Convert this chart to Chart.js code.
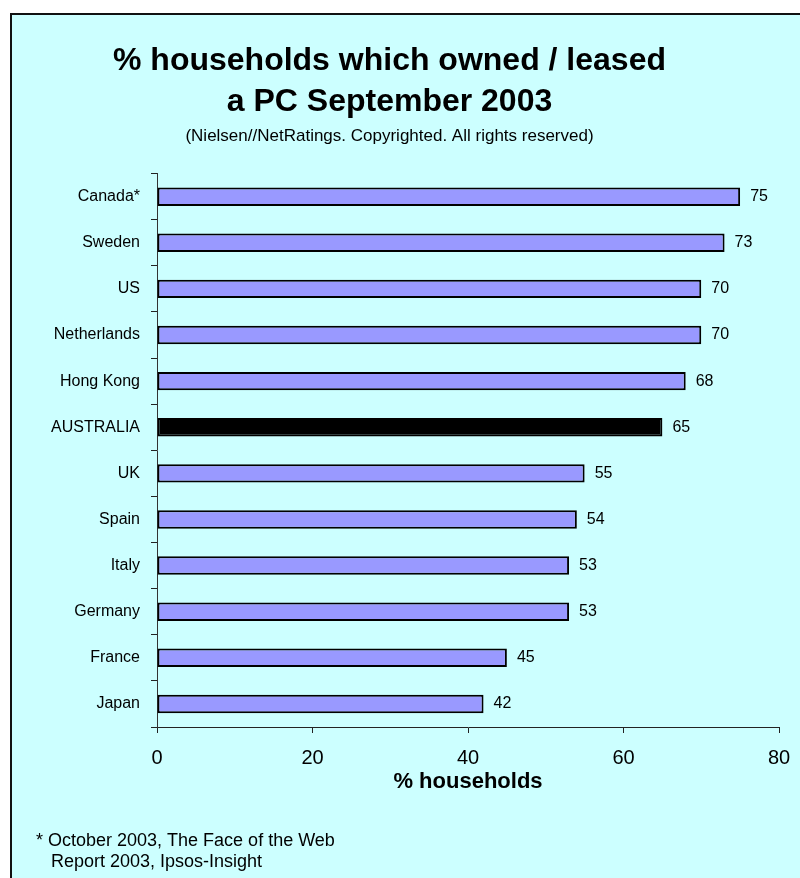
<!DOCTYPE html>
<html lang="en">
<head>
    <meta charset="UTF-8">
    <title>PC ownership by country</title>
    <script src="https://cdn.jsdelivr.net/npm/chart.js"></script>
    <style>
        body { margin: 0; background: #fff; }
    </style>
</head>
<body>
    <canvas id="pcChart" width="800" height="878"></canvas>
    <script>
        // Households owning / leasing a PC, Sept 2003
        var countries = ['Canada*', 'Sweden', 'US', 'Netherlands', 'Hong Kong', 'AUSTRALIA',
                         'UK', 'Spain', 'Italy', 'Germany', 'France', 'Japan'];
        var percentOwned = [75, 73, 70, 70, 68, 65, 55, 54, 53, 53, 45, 42];
        var xTicks = [0, 20, 40, 60, 80];
        var highlight = 'AUSTRALIA';

        var FONT = "'Liberation Sans', Arial, sans-serif";

        // cyan panel with the dark frame on top / left
        var panelPlugin = {
            id: 'panel',
            beforeDraw: function (chart) {
                var ctx = chart.ctx;
                ctx.save();
                ctx.fillStyle = '#ffffff';
                ctx.fillRect(0, 0, chart.width, chart.height);
                ctx.fillStyle = '#ccffff';
                ctx.fillRect(10, 13, chart.width, chart.height);
                ctx.strokeStyle = '#111';
                ctx.lineWidth = 2;
                ctx.beginPath();
                ctx.moveTo(11, chart.height);
                ctx.lineTo(11, 14);
                ctx.lineTo(chart.width, 14);
                ctx.stroke();
                ctx.restore();
            }
        };

        // value at the end of each bar + the source note at the bottom
        var labelPlugin = {
            id: 'barLabels',
            afterDatasetsDraw: function (chart) {
                var ctx = chart.ctx;
                var meta = chart.getDatasetMeta(0);
                ctx.save();
                ctx.fillStyle = '#000';
                ctx.font = '16px ' + FONT;
                ctx.textBaseline = 'middle';
                ctx.textAlign = 'left';
                meta.data.forEach(function (bar, i) {
                    ctx.fillText(percentOwned[i], bar.x + 10, bar.y);
                });
                ctx.font = '18px ' + FONT;
                ctx.textBaseline = 'alphabetic';
                ctx.fillText('* October 2003, The Face of the Web', 36, 846);
                ctx.fillText('Report 2003, Ipsos-Insight', 51, 867);
                ctx.restore();
            }
        };

        var ctx = document.getElementById('pcChart').getContext('2d');
        var pcChart = new Chart(ctx, {
            type: 'bar',
            data: {
                labels: countries,
                datasets: [{
                    data: percentOwned,
                    backgroundColor: countries.map(function (c) {
                        return c === highlight ? '#000000' : '#9999ff';
                    }),
                    borderColor: '#000',
                    borderWidth: 2,
                    borderSkipped: false,
                    categoryPercentage: 1,
                    barPercentage: 0.4
                }]
            },
            options: {
                indexAxis: 'y',
                responsive: false,
                animation: false,
                layout: { padding: { top: 0, right: 21, bottom: 0, left: 0 } },
                plugins: {
                    legend: { display: false },
                    tooltip: { enabled: false },
                    title: {
                        display: true,
                        text: ['% households which owned / leased', 'a PC September 2003'],
                        color: '#000',
                        font: { family: FONT, size: 32, weight: 'bold', lineHeight: 1.3 },
                        padding: { top: 40, bottom: 0 }
                    },
                    subtitle: {
                        display: true,
                        text: '(Nielsen//NetRatings. Copyrighted. All rights reserved)',
                        color: '#000',
                        font: { family: FONT, size: 17, lineHeight: 1.2 },
                        padding: { top: 3, bottom: 27 }
                    }
                },
                scales: {
                    x: {
                        min: 0,
                        max: 80,
                        afterBuildTicks: function (scale) {
                            scale.ticks = xTicks.map(function (v) { return { value: v }; });
                        },
                        afterFit: function (scale) {
                            scale.height = 878 - 727;
                            scale.paddingLeft = 0;
                            scale.paddingRight = 0;
                        },
                        border: { color: '#222', width: 1 },
                        grid: { drawOnChartArea: false, tickLength: 6, color: '#222' },
                        ticks: { color: '#000', padding: 13, font: { family: FONT, size: 20 } },
                        title: {
                            display: true,
                            text: '% households',
                            color: '#000',
                            font: { family: FONT, size: 22, weight: 'bold', lineHeight: 1.2 },
                            padding: { top: 0, bottom: 83 }
                        }
                    },
                    y: {
                        afterFit: function (scale) { scale.width = 157; },
                        border: { color: '#333', width: 1 },
                        grid: { drawOnChartArea: false, tickLength: 6, color: '#222', offset: true },
                        ticks: { color: '#000', padding: 11, font: { family: FONT, size: 16 } }
                    }
                }
            },
            plugins: [panelPlugin, labelPlugin]
        });
    </script>
</body>
</html>
